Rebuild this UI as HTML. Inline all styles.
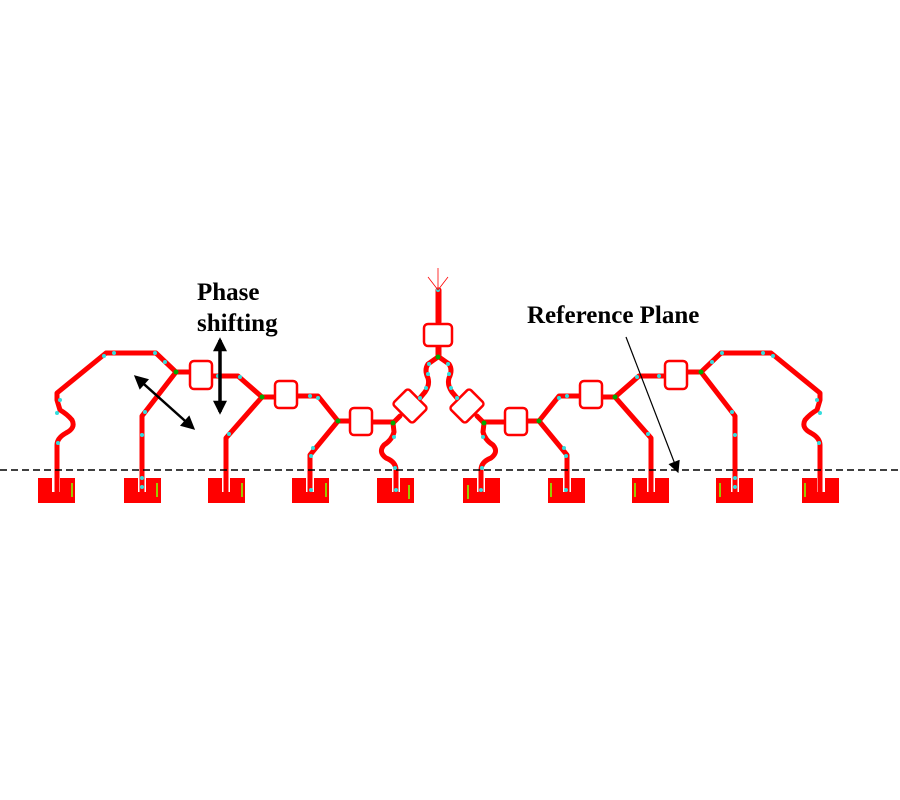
<!DOCTYPE html>
<html><head><style>
html,body{margin:0;padding:0;background:#fff;width:900px;height:800px;overflow:hidden}
svg{display:block}
text{font-family:"Liberation Serif",serif;font-weight:bold;fill:#000}
</style></head><body>
<svg width="900" height="800" viewBox="0 0 900 800">
<defs>
<marker id="ah" viewBox="0 0 10 10" refX="8" refY="5" markerWidth="16" markerHeight="14" orient="auto-start-reverse" markerUnits="userSpaceOnUse"><path d="M0,0L10,5L0,10z" fill="#000"/></marker>
<marker id="ah2" viewBox="0 0 10 10" refX="9" refY="5" markerWidth="14" markerHeight="12" orient="auto" markerUnits="userSpaceOnUse"><path d="M0,0L10,5L0,10z" fill="#000"/></marker>
<g id="half">
  <g fill="#f00">
    <path d="M38,478h14v14h8v-14h15v25h-37z"/>
    <path d="M124,478h14v14h8v-14h15v25h-37z"/>
    <path d="M208,478h14v14h8v-14h15v25h-37z"/>
    <path d="M292,478h14v14h8v-14h15v25h-37z"/>
    <path d="M377,478h15v14h8v-14h14v25h-37z"/>
  </g>
  <g fill="#9c0"><rect x="71" y="483" width="2" height="14"/><rect x="156" y="483" width="2" height="14"/><rect x="241" y="483" width="2" height="14"/><rect x="325" y="483" width="2" height="14"/><rect x="408" y="485" width="2" height="14"/></g>
  <g fill="none" stroke="#f00" stroke-width="5" stroke-linejoin="round" stroke-linecap="round">
    <path d="M57,494V445Q57,438 66,433Q76,428 72,420Q67,414 60,410L57,400V393L106,353H156L176,372"/>
    <path d="M142,494V416L176,372"/>
    <path d="M176,372H190"/>
    <path d="M210,376H238L262,397"/>
    <path d="M226,494V438L262,397"/>
    <path d="M262,397H276"/>
    <path d="M297,396H318L338,421"/>
    <path d="M310,494V455L338,421"/>
    <path d="M338,421H350"/>
    <path d="M372,422H393"/>
    <path d="M396,494V470Q396,462 386,458Q378,452 384,445Q392,440 394,432L393,423"/>
    <path d="M393,423L400,416"/>
    <path d="M420,398L425,392Q430,385 428,378Q424,370 428,364L438,357"/>
    <path d="M438,357V345"/>
    <path d="M438,322V290"/>
  </g>
  <g fill="#fff" stroke="#f00" stroke-width="2.5">
    <rect x="190" y="361" width="22" height="28" rx="4"/>
    <rect x="275" y="381" width="22" height="27" rx="4"/>
    <rect x="350" y="408" width="22" height="27" rx="4"/>
    <rect x="396" y="395" width="28" height="22" rx="3" transform="rotate(45 410 406)"/>
  </g>
  <g fill="#0a0"><circle cx="176" cy="372" r="2.5"/><circle cx="262" cy="397" r="2.5"/><circle cx="338" cy="421" r="2.5"/><circle cx="393" cy="423" r="2.5"/></g>
  <g fill="#3dd">
    <circle cx="60" cy="400" r="2"/><circle cx="57" cy="413" r="2"/><circle cx="58" cy="443" r="2"/><circle cx="104" cy="356" r="2"/><circle cx="114" cy="353" r="2"/><circle cx="155" cy="353" r="2"/><circle cx="165" cy="362" r="2"/>
    <circle cx="145" cy="412" r="2"/><circle cx="142" cy="435" r="2"/><circle cx="142" cy="478" r="2"/><circle cx="142" cy="487" r="2"/>
    <circle cx="218" cy="376" r="2"/><circle cx="240" cy="377" r="2"/><circle cx="229" cy="434" r="2"/>
    <circle cx="310" cy="396" r="2"/><circle cx="318" cy="398" r="2"/><circle cx="313" cy="448" r="2"/><circle cx="311" cy="456" r="2"/><circle cx="311" cy="490" r="2"/>
    <circle cx="394" cy="437" r="2"/><circle cx="395" cy="468" r="2"/><circle cx="396" cy="490" r="2"/><circle cx="420" cy="398" r="2"/><circle cx="426" cy="388" r="2"/><circle cx="428" cy="374" r="2"/><circle cx="429" cy="364" r="2"/>
  </g>
</g>
</defs>
<use href="#half"/>
<use href="#half" transform="translate(877,0) scale(-1,1)"/>
<rect x="424" y="324" width="28" height="22" rx="4" fill="#fff" stroke="#f00" stroke-width="2.5"/>
<circle cx="438" cy="357" r="2.5" fill="#0a0"/>
<circle cx="438" cy="290" r="2" fill="#3dd"/>
<g stroke="#f00" stroke-width="0.8"><line x1="438" y1="290" x2="428" y2="277"/><line x1="438" y1="290" x2="448" y2="277"/><line x1="438" y1="290" x2="438" y2="268"/></g>
<line x1="0" y1="470" x2="900" y2="470" stroke="#000" stroke-width="1.5" stroke-dasharray="7,4"/>
<text x="197" y="300" font-size="25">Phase</text>
<text x="197" y="331" font-size="25">shifting</text>
<text x="527" y="323" font-size="25">Reference Plane</text>
<line x1="220" y1="340" x2="220" y2="412" stroke="#000" stroke-width="3.5" marker-start="url(#ah)" marker-end="url(#ah)"/>
<line x1="136" y1="377" x2="193" y2="428" stroke="#000" stroke-width="2.5" marker-start="url(#ah)" marker-end="url(#ah)"/>
<line x1="626" y1="337" x2="678" y2="472" stroke="#000" stroke-width="1.2" marker-end="url(#ah2)"/>
</svg>
</body></html>
